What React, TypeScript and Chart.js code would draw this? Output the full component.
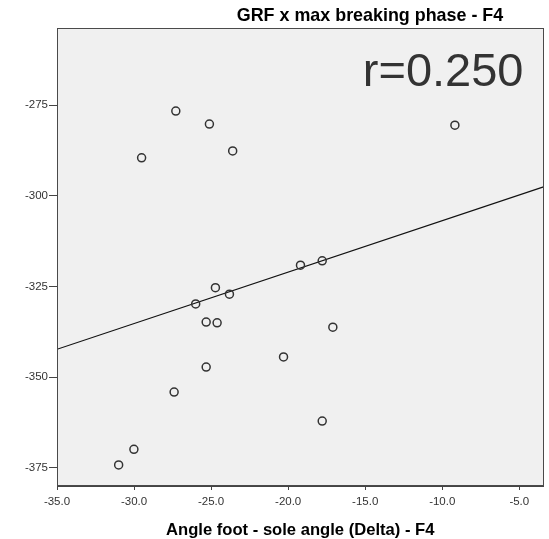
import React, { useEffect, useRef } from "react";
import { Chart, registerables } from "chart.js";

Chart.register(...registerables);

// ---- data ----
const xValues = [
  -27.29, -25.11, -29.51, -23.6, -24.72, -23.81, -26.0, -25.32, -24.61, -25.32,
  -19.2, -17.79, -17.1, -20.3, -17.79, -27.4, -30.01, -31.0, -9.18,
];
const yValues = [
  -276.6, -280.2, -289.5, -287.6, -325.3, -327.1, -329.8, -334.8, -335.0, -347.2,
  -319.1, -317.9, -336.2, -344.4, -362.1, -354.1, -369.9, -374.2, -280.5,
];
const fitX = [-35, -3.43];
const fitY = [-342.3, -297.5];
const xTicks = [-35, -30, -25, -20, -15, -10, -5];
const yTicks = [-375, -350, -325, -300, -275];
const xRange = [-35, -3.43];
const yRange = [-380, -253.7];
const chartTitle = "GRF x max breaking phase - F4";
const xAxisTitle = "Angle foot - sole angle (Delta) - F4";
const rLabel = "r=0.250";

const FONT = "'Liberation Sans', Arial, sans-serif";

const decorPlugin = {
  id: "decor",
  beforeDatasetsDraw(chart: any) {
    const { ctx, chartArea: a } = chart;
    ctx.save();
    ctx.fillStyle = "#f0f0f0";
    ctx.fillRect(a.left, a.top, a.right - a.left, a.bottom - a.top);
    ctx.restore();
  },
  afterDraw(chart: any) {
    const { ctx, chartArea: a } = chart;
    ctx.save();
    ctx.strokeStyle = "#4a4a4a";
    ctx.lineWidth = 1;
    ctx.strokeRect(Math.round(a.left) + 0.5, Math.round(a.top) + 0.5, Math.round(a.right - a.left) - 1, Math.round(a.bottom - a.top) - 1);

    ctx.fillStyle = "#000";
    ctx.textBaseline = "alphabetic";
    ctx.textAlign = "center";
    ctx.font = `bold 17.9px ${FONT}`;
    ctx.fillText(chartTitle, 370, 21);

    ctx.font = `bold 16.6px ${FONT}`;
    ctx.fillText(xAxisTitle, (a.left + a.right) / 2, 535);

    ctx.fillStyle = "#333";
    ctx.textAlign = "right";
    ctx.font = `47px ${FONT}`;
    ctx.fillText(rLabel, a.right - 20, a.top + 58);
    ctx.restore();
  },
};

export default function App() {
  const ref = useRef<HTMLCanvasElement | null>(null);

  useEffect(() => {
    if (!ref.current) return;
    const points = xValues.map((x, i) => ({ x, y: yValues[i] }));
    const fit = fitX.map((x, i) => ({ x, y: fitY[i] }));
    const chart = new Chart(ref.current, {
      type: "scatter",
      data: {
        datasets: [
          {
            type: "scatter",
            data: points,
            pointStyle: "circle",
            pointRadius: 4,
            pointBorderWidth: 1.5,
            borderColor: "#333",
            backgroundColor: "rgba(0,0,0,0)",
          } as any,
          {
            type: "line",
            data: fit,
            borderColor: "#111",
            borderWidth: 1.2,
            pointRadius: 0,
            fill: false,
          } as any,
        ],
      },
      options: {
        responsive: false,
        animation: false,
        devicePixelRatio: 1,
        layout: { padding: { left: 0, top: 28, right: 4, bottom: 0 } },
        plugins: {
          legend: { display: false },
          tooltip: { enabled: false },
          title: { display: false },
        },
        scales: {
          x: {
            type: "linear",
            min: xRange[0],
            max: xRange[1],
            afterBuildTicks: (s: any) => {
              s.ticks = xTicks.map((v) => ({ value: v }));
            },
            afterFit: (s: any) => {
              s.height = 53;
            },
            ticks: {
              font: { family: FONT, size: 11.5 },
              color: "#333",
              padding: 5,
              maxRotation: 0,
              autoSkip: false,
              callback: (v: any) => Number(v).toFixed(1),
            },
            grid: {
              drawOnChartArea: false,
              drawTicks: true,
              tickLength: 4,
              tickColor: "#444",
              tickWidth: 1,
            },
            border: { display: true, color: "#444", width: 1 },
          },
          y: {
            type: "linear",
            min: yRange[0],
            max: yRange[1],
            afterBuildTicks: (s: any) => {
              s.ticks = yTicks.map((v) => ({ value: v }));
            },
            afterFit: (s: any) => {
              s.width = 57;
            },
            ticks: {
              font: { family: FONT, size: 11.5 },
              color: "#333",
              padding: 1,
              autoSkip: false,
              callback: (v: any) => String(v),
            },
            grid: {
              drawOnChartArea: false,
              drawTicks: true,
              tickLength: 8,
              tickColor: "#444",
              tickWidth: 1,
            },
            border: { display: true, color: "#444", width: 1 },
          },
        },
      },
      plugins: [decorPlugin],
    });
    return () => chart.destroy();
  }, []);

  return (
    <div style={{ position: "absolute", left: 0, top: 0, width: 549, height: 539, background: "#fff" }}>
      <canvas ref={ref} width={549} height={539} style={{ width: 549, height: 539, display: "block" }} />
    </div>
  );
}
